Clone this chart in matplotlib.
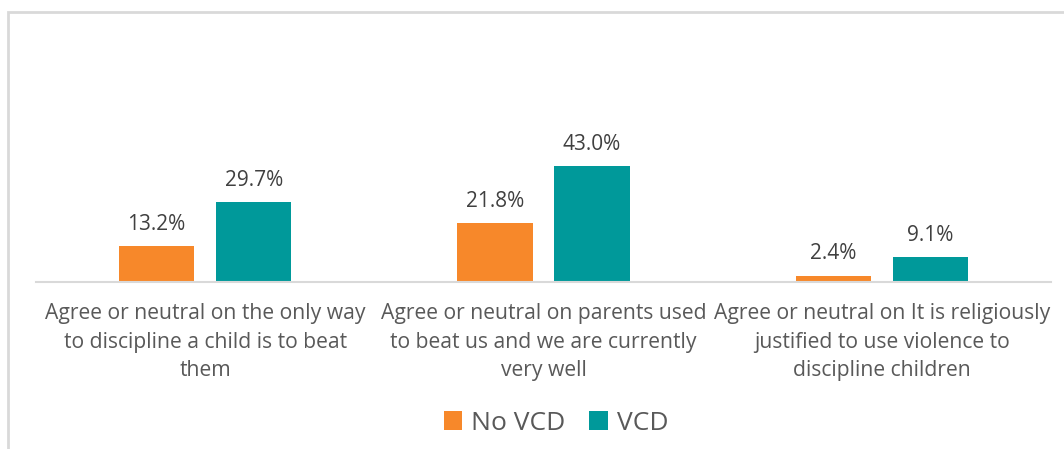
import matplotlib
matplotlib.use("Agg")
import matplotlib.pyplot as plt
from matplotlib.patches import Rectangle
import numpy as np

categories = [
    "Agree or neutral on the only way\nto discipline a child is to beat\nthem",
    "Agree or neutral on parents used\nto beat us and we are currently\nvery well",
    "Agree or neutral on It is religiously\njustified to use violence to\ndiscipline children",
]
series_names = ["No VCD", "VCD"]
no_vcd = [13.2, 21.8, 2.4]
vcd = [29.7, 43.0, 9.1]
colors = ["#F7882A", "#00999A"]

W, H = 1064, 449
fig = plt.figure(figsize=(W / 100, H / 100), dpi=100)
plt.rcParams['font.family'] = ['Open Sans', 'DejaVu Sans']

# outer frame
fig.patches.append(Rectangle((8 / W, -0.1), 1.2, (H - 12) / H + 0.1, transform=fig.transFigure,
                             fill=False, edgecolor="#D9D9D9", linewidth=2))

left, right, bottom, top = 36, 1051, 282, 30
ax = fig.add_axes([left / W, (H - bottom) / H, (right - left) / W, (bottom - top) / H])
ax.set_facecolor("none")
x = np.arange(len(categories))
bw = 0.222
off = 0.1435
b1 = ax.bar(x - off, no_vcd, bw, color=colors[0], label=series_names[0])
b2 = ax.bar(x + off, vcd, bw, color=colors[1], label=series_names[1])
px_per = 116 / 43.0
ax.set_ylim(0, (bottom - top) / px_per)
ax.set_xlim(-0.5, 2.5)

for bars, vals in ((b1, no_vcd), (b2, vcd)):
    for r, v in zip(bars, vals):
        ax.annotate(f"{v:.1f}%", (r.get_x() + r.get_width() / 2, v), xytext=(0, 8),
                    textcoords="offset points", ha="center", va="bottom",
                    fontsize=15, color="#404040")

for s in ["top", "right", "left"]:
    ax.spines[s].set_visible(False)
ax.spines["bottom"].set_color("#D9D9D9")
ax.spines["bottom"].set_linewidth(1.5)
ax.set_yticks([])
ax.set_xticks(x)
ax.set_xticklabels(categories, fontsize=15.2, color="#595959", linespacing=1.48)
ax.tick_params(axis="x", length=0, pad=15)

leg = fig.legend(handles=[b1, b2], labels=series_names, loc="center",
                 bbox_to_anchor=(556 / W, 1 - 423 / H), ncol=2, frameon=False,
                 fontsize=19, handlelength=0.7, handleheight=0.7, handletextpad=0.35,
                 columnspacing=0.9, labelcolor="#595959")

fig.savefig("out.png", dpi=100)
